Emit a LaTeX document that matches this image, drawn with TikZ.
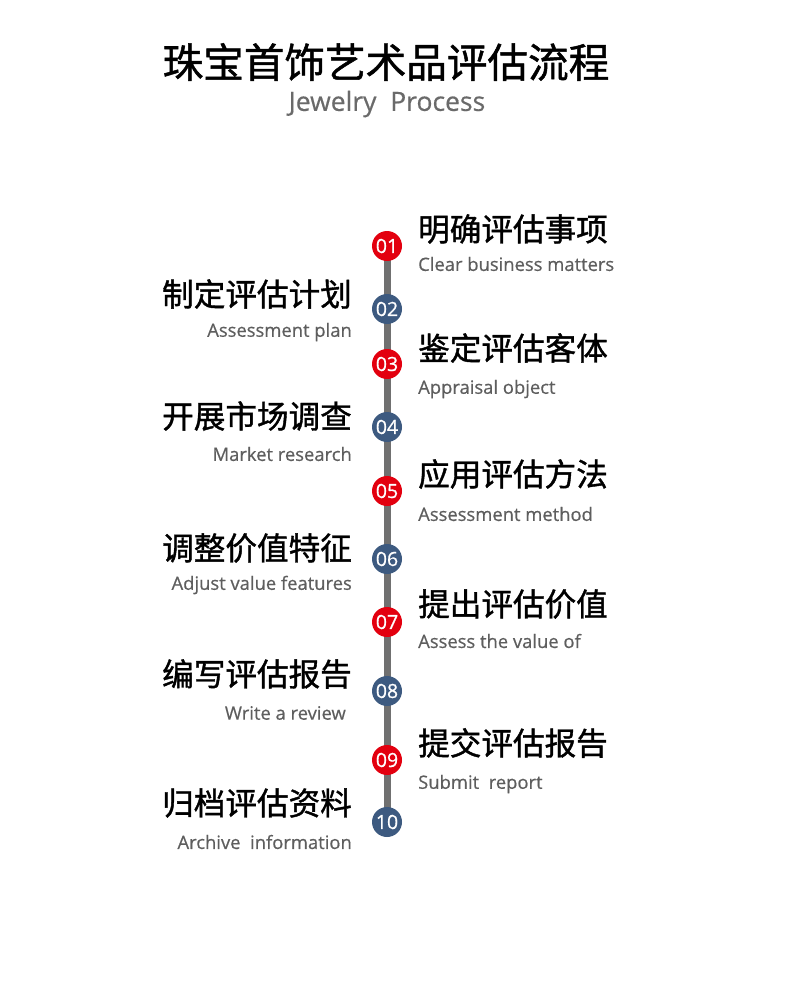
\documentclass[tikz,border=0pt]{standalone}
\usepackage{fontspec}
\setmainfont{Open Sans}
\newfontfamily\subf{Open Sans}[FakeBold=0.5]
\newfontfamily\cjk{Noto Sans CJK SC}[FakeBold=1.2]
\newfontfamily\num{Open Sans}[FakeBold=0.8]
\definecolor{dotred}{HTML}{E3000F}
\definecolor{dotblue}{HTML}{3D5A80}
\definecolor{linegrey}{HTML}{707070}
\definecolor{subgrey}{HTML}{5E5E5E}
\definecolor{headgrey}{HTML}{6A6A6A}
\begin{document}
\begin{tikzpicture}[x=1pt,y=-1pt,
  dotr/.style={circle,fill=dotred,minimum size=30pt,inner sep=0pt,text=white,font=\num\fontsize{19.5}{19.5}\selectfont},
  dotb/.style={dotr,fill=dotblue},
  ttl/.style={inner sep=0pt,font=\cjk\fontsize{31.6}{31.6}\selectfont,text=black},
  sub/.style={inner sep=0pt,font=\subf\fontsize{18.4}{18.4}\selectfont,text=subgrey},
  rt/.style={anchor=west},
  lt/.style={anchor=east}]
\useasboundingbox[fill=white] (0,0) rectangle (788,999);
\node[inner sep=0pt,font=\cjk\fontsize{40.6}{40.6}\selectfont] (head) at (386,62) {珠宝首饰艺术品评估流程};
\node[inner sep=0pt,font=\subf\fontsize{26.5}{26.5}\selectfont,text=headgrey] (headen) at (387,104) {Jewelry\ \ Process};
\coordinate (top) at (387,246);
\coordinate (bot) at (387,822);
\draw[linegrey,line width=7pt] (top) -- (bot);
\node[dotr] (d1) at (387,246) {01};
\node[dotb] (d2) at (387,309) {02};
\node[dotr] (d3) at (387,364) {03};
\node[dotb] (d4) at (387,427) {04};
\node[dotr] (d5) at (387,491) {05};
\node[dotb] (d6) at (387,559) {06};
\node[dotr] (d7) at (387,622) {07};
\node[dotb] (d8) at (387,691) {08};
\node[dotr] (d9) at (387,760) {09};
\node[dotb] (d10) at (387,822) {10};
% right side
\node[ttl,rt] (t1) at (418,229) {明确评估事项};
\node[sub,rt] (s1) at (418,264) {Clear business matters};
\node[ttl,rt] (t3) at (418,348) {鉴定评估客体};
\node[sub,rt] (s3) at (418,389) {Appraisal object};
\node[ttl,rt] (t5) at (418,474) {应用评估方法};
\node[sub,rt] (s5) at (418,514) {Assessment method};
\node[ttl,rt] (t7) at (418,604) {提出评估价值};
\node[sub,rt] (s7) at (418,641) {Assess the value of};
\node[ttl,rt] (t9) at (418,743) {提交评估报告};
\node[sub,rt] (s9) at (418,784) {Submit\ \ report};
% left side
\node[ttl,lt] (t2) at (352,294) {制定评估计划};
\node[sub,lt] (s2) at (352,332) {Assessment plan};
\node[ttl,lt] (t4) at (352,416) {开展市场调查};
\node[sub,lt] (s4) at (352,454) {Market research};
\node[ttl,lt] (t6) at (352,548) {调整价值特征};
\node[sub,lt] (s6) at (352,585) {Adjust value features};
\node[ttl,lt] (t8) at (352,674) {编写评估报告};
\node[sub,lt] (s8) at (346,713) {Write a review};
\node[ttl,lt] (t10) at (352,803) {归档评估资料};
\node[sub,lt] (s10) at (352,842) {Archive\ \ information};
\end{tikzpicture}
\end{document}
